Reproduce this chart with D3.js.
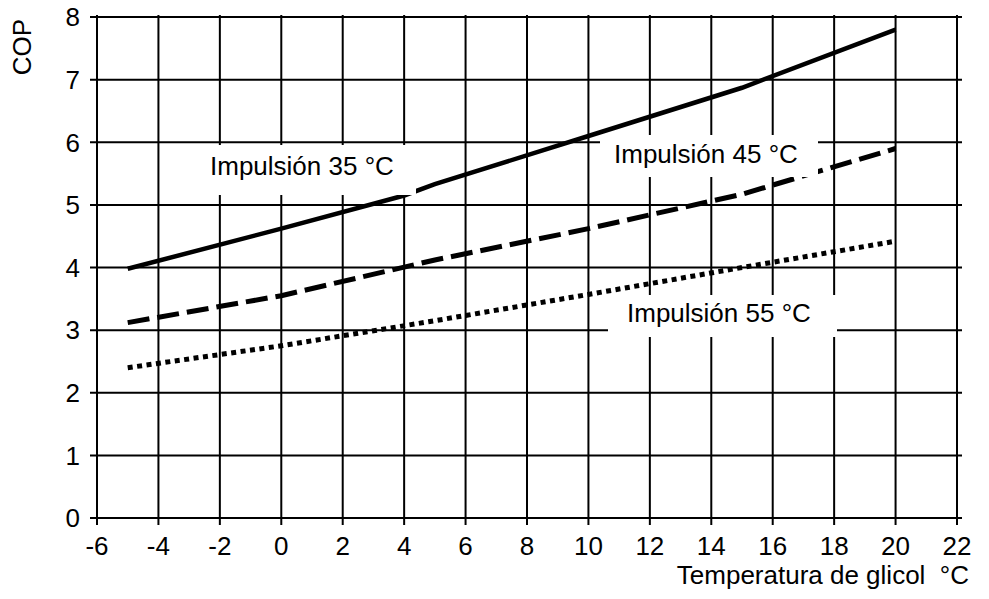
<!DOCTYPE html>
<html>
<head>
<meta charset="utf-8">
<script src="https://cdn.jsdelivr.net/npm/d3@7"></script>
<style>
  html, body { margin: 0; padding: 0; background: #fff; }
  svg text { font-family: "Liberation Sans", Arial, sans-serif; fill: #000; white-space: pre; }
</style>
</head>
<body>
<svg id="chart" width="989" height="599"></svg>
<script>
// ---- data ----
const xTicks = [-6, -4, -2, 0, 2, 4, 6, 8, 10, 12, 14, 16, 18, 20, 22];
const yTicks = [0, 1, 2, 3, 4, 5, 6, 7, 8];
const xLabel = "Temperatura de glicol  °C";
const yLabel = "COP";

const glycolTemp35 = [-5, 0, 4, 5, 10, 15, 20];
const cop35        = [3.98, 4.62, 5.15, 5.33, 6.1, 6.87, 7.8];
const glycolTemp45 = [-5, 0, 5, 10, 15, 20];
const cop45        = [3.12, 3.55, 4.12, 4.62, 5.17, 5.9];
const glycolTemp55 = [-5, 0, 5, 10, 15, 20];
const cop55        = [2.4, 2.75, 3.15, 3.57, 4.0, 4.42];
const seriesNames  = ["Impulsión 35 °C", "Impulsión 45 °C", "Impulsión 55 °C"];

// ---- layout ----
const svg = d3.select("#chart");
const x = d3.scaleLinear().domain([-6, 22]).range([97, 957]);
const y = d3.scaleLinear().domain([0, 8]).range([518, 17]);

const grid = svg.append("g").attr("stroke", "#000").attr("stroke-width", 2);
grid.selectAll("line.v").data(xTicks).join("line")
  .attr("class", "v")
  .attr("x1", d => x(d)).attr("x2", d => x(d))
  .attr("y1", y(8) - 2).attr("y2", y(0) + 7);
grid.selectAll("line.h").data(yTicks).join("line")
  .attr("class", "h")
  .attr("x1", x(-6) - 7).attr("x2", x(22) + 5)
  .attr("y1", d => y(d)).attr("y2", d => y(d));

// tick labels
svg.append("g").selectAll("text").data(xTicks).join("text")
  .attr("x", d => x(d)).attr("y", 555)
  .attr("text-anchor", "middle").attr("font-size", 26)
  .text(d => d);
svg.append("g").selectAll("text").data(yTicks).join("text")
  .attr("x", 80).attr("y", d => y(d)).attr("dy", "0.36em")
  .attr("text-anchor", "end").attr("font-size", 26)
  .text(d => d);

// axis titles
svg.append("text").attr("x", 969).attr("y", 584)
  .attr("text-anchor", "end").attr("font-size", 26).text(xLabel);
svg.append("text").attr("transform", "translate(31,19) rotate(-90)")
  .attr("text-anchor", "end").attr("font-size", 26).text(yLabel);

// curves
const line = d3.line().x(d => x(d[0])).y(d => y(d[1]));
const series = [
  { xs: glycolTemp35, ys: cop35, dash: null, w: 4.5 },
  { xs: glycolTemp45, ys: cop45, dash: "22,8", w: 5 },
  { xs: glycolTemp55, ys: cop55, dash: "5,4.5", w: 5 }
];
series.forEach(s => {
  svg.append("path")
    .datum(d3.zip(s.xs, s.ys))
    .attr("d", line)
    .attr("fill", "none").attr("stroke", "#000")
    .attr("stroke-width", s.w)
    .attr("stroke-dasharray", s.dash);
});

// labels with white boxes
const labelBoxes = [
  { bx: 195, by: 145, bw: 221, bh: 50, tx: 210, ty: 175 },
  { bx: 600, by: 135, bw: 218, bh: 42, tx: 614, ty: 163 },
  { bx: 608, by: 295, bw: 229, bh: 42, tx: 627, ty: 322 }
];
labelBoxes.forEach((b, i) => {
  svg.append("rect").attr("x", b.bx).attr("y", b.by)
    .attr("width", b.bw).attr("height", b.bh).attr("fill", "#fff");
  svg.append("text").attr("x", b.tx).attr("y", b.ty)
    .attr("font-size", 26).text(seriesNames[i]);
});
</script>
</body>
</html>
